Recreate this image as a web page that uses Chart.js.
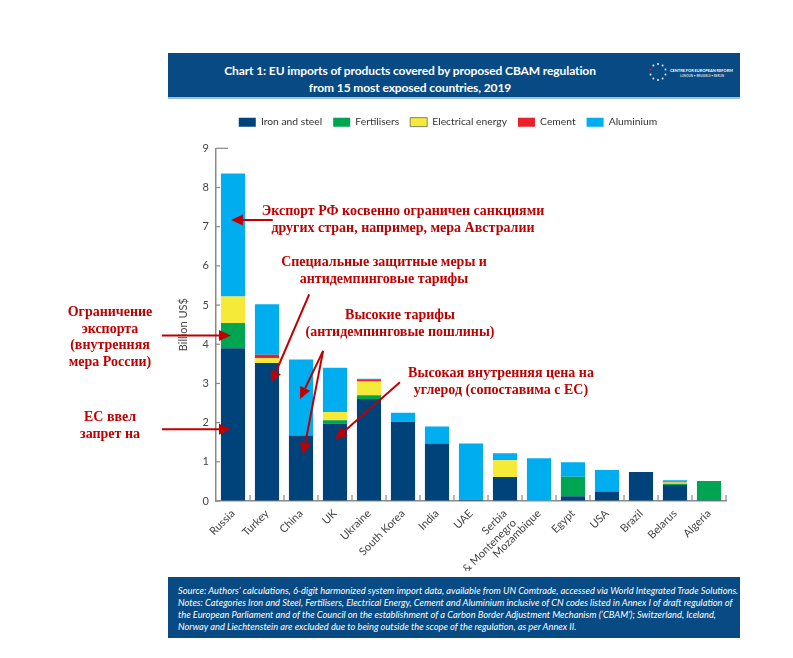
<!DOCTYPE html>
<html>
<head>
<meta charset="utf-8">
<script src="https://cdn.jsdelivr.net/npm/chart.js@4.4.0/dist/chart.umd.min.js"></script>
<style>
  html, body { margin: 0; padding: 0; background: #fff; }
  #page { position: relative; width: 793px; height: 658px; overflow: hidden; font-family: Lato, "Open Sans", sans-serif; }
  #wrap { position: absolute; left: 0; top: 0; width: 793px; height: 658px; }
  .band { position: absolute; left: 168px; width: 572px; background: #084a83; color: #fff; }
  #head { top: 53px; height: 44px; border-bottom: 2px solid #9cc0de; }
  #title { position: absolute; left: 0; top: 9px; width: 484px; text-align: center; font-weight: 700; font-size: 12px; letter-spacing: -0.1px; line-height: 17px; white-space: nowrap; }
  #logo { position: absolute; left: 480px; top: 8px; width: 90px; height: 28px; }
  #logo .n1 { position: absolute; left: 22px; top: 7px; font-size: 3.9px; font-weight: 700; white-space: nowrap; }
  #logo .n2 { position: absolute; left: 32px; top: 13px; font-size: 3px; white-space: nowrap; }
  #foot { top: 577px; height: 61px; }
  #foot p { margin: 0; position: absolute; left: 10px; top: 8px; font-style: italic; font-size: 9.3px; line-height: 12px; white-space: nowrap; }
  .note { position: absolute; color: #c00000; font-family: "Liberation Serif", "Times New Roman", serif; font-weight: 700; font-size: 14px; line-height: 17px; white-space: nowrap; text-align: center; transform: translate(-50%, 0); }
</style>
</head>
<body>
<div id="page">
  <div id="wrap"><canvas id="chart"></canvas></div>

  <div class="band" id="head">
    <div id="title">Chart 1: EU imports of products covered by proposed CBAM regulation<br>from 15 most exposed countries, 2019</div>
    <div id="logo">
      <svg width="20" height="20" viewBox="0 0 20 20" style="position:absolute;left:0;top:1px">
        <circle cx="10" cy="2" r="0.9" fill="#fff"/><circle cx="14.6" cy="3.5" r="0.9" fill="#fff"/>
        <circle cx="17.5" cy="7.5" r="0.9" fill="#fff"/><circle cx="17.5" cy="12.5" r="0.9" fill="#fff"/>
        <circle cx="14.6" cy="16.5" r="0.9" fill="#fff"/><circle cx="10" cy="18" r="0.9" fill="#fff"/>
        <circle cx="5.4" cy="16.5" r="0.9" fill="#fff"/><circle cx="2.5" cy="12.5" r="0.9" fill="#fff"/>
        <circle cx="2.5" cy="7.5" r="0.9" fill="#e4202a"/><circle cx="5.4" cy="3.5" r="0.9" fill="#fff"/>
      </svg>
      <div class="n1">CENTRE FOR EUROPEAN REFORM</div>
      <div class="n2">LONDON • BRUSSELS • BERLIN</div>
    </div>
  </div>

  <div class="band" id="foot">
    <p>Source: Authors’ calculations, 6-digit harmonized system import data, available from UN Comtrade, accessed via World Integrated Trade Solutions.<br>
    Notes: Categories Iron and Steel, Fertilisers, Electrical Energy, Cement and Aluminium inclusive of CN codes listed in Annex I of draft regulation of<br>
    the European Parliament and of the Council on the establishment of a Carbon Border Adjustment Mechanism (‘CBAM’); Switzerland, Iceland,<br>
    Norway and Liechtenstein are excluded due to being outside the scope of the regulation, as per Annex II.</p>
  </div>

  <div class="note" style="left:403px;top:202px">Экспорт РФ косвенно ограничен санкциями<br>других стран, например, мера Австралии</div>
  <div class="note" style="left:384px;top:253px">Специальные защитные меры и<br>антидемпинговые тарифы</div>
  <div class="note" style="left:400px;top:306px">Высокие тарифы<br>(антидемпинговые пошлины)</div>
  <div class="note" style="left:501px;top:364px">Высокая внутренняя цена на<br>углерод (сопоставима с ЕС)</div>
  <div class="note" style="left:110px;top:304px;line-height:16.5px">Ограничение<br>экспорта<br>(внутренняя<br>мера России)</div>
  <div class="note" style="left:110px;top:408px">ЕС ввел<br>запрет на</div>
</div>

<script>
// ---------- Dados (bilhões US$) ----------
const countries   = ['Russia', 'Turkey', 'China', 'UK', 'Ukraine', 'South Korea', 'India', 'UAE',
                     ['Serbia', '& Montenegro'], 'Mozambique', 'Egypt', 'USA', 'Brazil', 'Belarus', 'Algeria'];
const ironSteel   = [3.90, 3.52, 1.67, 1.98, 2.60, 2.02, 1.47, 0.03, 0.61, 0.00, 0.12, 0.24, 0.74, 0.41, 0.02];
const fertilisers = [0.64, 0.00, 0.00, 0.08, 0.10, 0.00, 0.00, 0.00, 0.00, 0.00, 0.50, 0.00, 0.00, 0.03, 0.49];
const electrical  = [0.68, 0.12, 0.00, 0.21, 0.35, 0.00, 0.00, 0.00, 0.43, 0.00, 0.00, 0.00, 0.00, 0.03, 0.00];
const cement      = [0.00, 0.09, 0.00, 0.00, 0.04, 0.00, 0.00, 0.00, 0.00, 0.00, 0.00, 0.00, 0.00, 0.03, 0.00];
const aluminium   = [3.14, 1.29, 1.94, 1.13, 0.03, 0.23, 0.43, 1.44, 0.18, 1.09, 0.37, 0.55, 0.00, 0.03, 0.00];
const yTicks      = [0, 1, 2, 3, 4, 5, 6, 7, 8, 9];

// setas das anotações, em coordenadas de dados: [índice da categoria, valor]
const arrows = [
  { from: [1.17, 7.17],  to: [-0.06, 7.17] },
  { from: [2.24, 5.27],  to: [1.12, 3.01] },
  { from: [2.65, 3.83],  to: [1.97, 2.60] },
  { from: [2.65, 3.83],  to: [2.06, 1.18] },
  { from: [4.91, 3.03],  to: [3.00, 1.57] },
  { from: [-2.09, 4.22], to: [-0.06, 4.22] },
  { from: [-2.09, 1.83], to: [-0.06, 1.83] }
];

const AXIS = '#8a8a8a';
const RED  = '#c00000';

// ---------- Plugin: espaço abaixo da legenda ----------
const legendGap = {
  id: 'legendGap',
  beforeInit(chart) {
    const fit = chart.legend.fit;
    chart.legend.fit = function () { fit.bind(chart.legend)(); this.height += 11; };
  }
};

// ---------- Plugin: ticks internos + setas ----------
const decor = {
  id: 'decor',
  beforeDatasetsDraw(chart) {
    const { ctx, scales: { y }, chartArea: a } = chart;
    ctx.save();
    ctx.strokeStyle = AXIS; ctx.lineWidth = 1.2;
    yTicks.forEach(v => {
      const py = y.getPixelForValue(v);
      ctx.beginPath(); ctx.moveTo(a.left, py); ctx.lineTo(a.left + (v === 9 ? 12 : 4), py); ctx.stroke();
    });
    ctx.restore();
  },
  afterDatasetsDraw(chart) {
    const { ctx, scales: { x }, chartArea: a } = chart;
    ctx.save();
    ctx.strokeStyle = AXIS; ctx.lineWidth = 1.2;
    for (let i = 1; i <= countries.length; i++) {
      const px = x.getPixelForValue(i - 0.5);
      ctx.beginPath(); ctx.moveTo(px, a.bottom); ctx.lineTo(px, a.bottom - 6); ctx.stroke();
    }
    ctx.restore();
  },
  afterDraw(chart) {
    const { ctx, scales: { x, y } } = chart;
    ctx.save();
    ctx.strokeStyle = RED; ctx.fillStyle = RED; ctx.lineWidth = 2;
    arrows.forEach(ar => {
      const x1 = x.getPixelForValue(ar.from[0]), y1 = y.getPixelForValue(ar.from[1]);
      const x2 = x.getPixelForValue(ar.to[0]),   y2 = y.getPixelForValue(ar.to[1]);
      const ang = Math.atan2(y2 - y1, x2 - x1), L = 12, W = 5.5;
      const bx = x2 - L * Math.cos(ang), by = y2 - L * Math.sin(ang);
      ctx.beginPath(); ctx.moveTo(x1, y1); ctx.lineTo(bx, by); ctx.stroke();
      ctx.beginPath();
      ctx.moveTo(x2, y2);
      ctx.lineTo(bx + W * Math.sin(ang), by - W * Math.cos(ang));
      ctx.lineTo(bx - W * Math.sin(ang), by + W * Math.cos(ang));
      ctx.closePath(); ctx.fill();
    });
    ctx.restore();
  }
};

const mk = (label, data, color) => ({ label, data, backgroundColor: color, borderWidth: 0,
  categoryPercentage: 1, barPercentage: 0.71 });

new Chart(document.getElementById('chart'), {
  type: 'bar',
  data: {
    labels: countries,
    datasets: [
      mk('Iron and steel', ironSteel, '#00427a'),
      mk('Fertilisers', fertilisers, '#00a551'),
      mk('Electrical energy', electrical, '#f4ea37'),
      mk('Cement', cement, '#e8202a'),
      mk('Aluminium', aluminium, '#00aeef')
    ]
  },
  options: {
    responsive: true, maintainAspectRatio: false, animation: false,
    layout: { padding: { left: 170, right: 67, top: 106, bottom: 87 } },
    plugins: {
      tooltip: { enabled: false },
      legend: {
        position: 'top',
        labels: {
          boxWidth: 17, boxHeight: 9, padding: 11, color: '#333',
          font: { family: 'Lato', size: 10.3 },
          generateLabels(chart) {
            return Chart.defaults.plugins.legend.labels.generateLabels(chart).map(it => {
              if (it.text === 'Electrical energy') { it.strokeStyle = '#666'; it.lineWidth = 0.8; }
              else it.lineWidth = 0;
              return it;
            });
          }
        }
      }
    },
    scales: {
      x: {
        stacked: true,
        grid: { display: true, drawOnChartArea: false, drawTicks: false },
        border: { color: AXIS, width: 1.5 },
        ticks: { color: '#444', font: { family: 'Lato', size: 11 }, minRotation: 45, maxRotation: 45, autoSkip: false, padding: 6 },
        afterFit: s => { s.height = 70; }
      },
      y: {
        stacked: true, min: 0, max: 9,
        grid: { display: true, drawOnChartArea: false, drawTicks: false },
        border: { color: AXIS, width: 1.5 },
        ticks: { stepSize: 1, color: '#444', font: { family: 'Lato', size: 11 }, padding: 7 },
        title: { display: true, text: 'Billion US$', color: '#444', font: { family: 'Lato', size: 11 }, padding: { top: 7, bottom: 0 } },
        afterFit: s => { s.width = 46; }
      }
    }
  },
  plugins: [legendGap, decor]
});
</script>
</body>
</html>
